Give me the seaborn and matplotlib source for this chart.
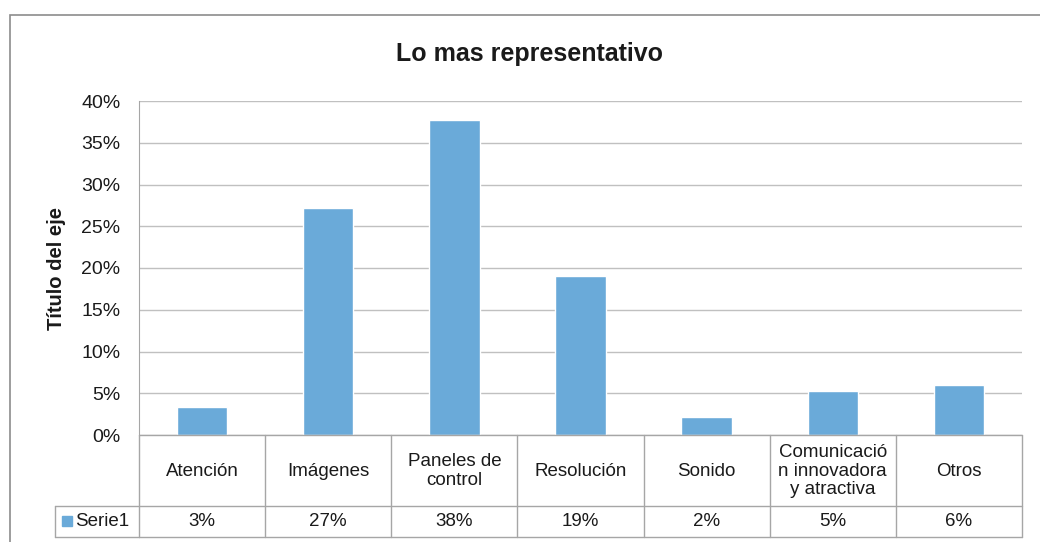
import numpy as np
import pandas as pd
import matplotlib
matplotlib.use('Agg')
import matplotlib.pyplot as plt
import matplotlib.transforms as mtransforms
from matplotlib.patches import Rectangle
from matplotlib.lines import Line2D
import seaborn as sns

# Data
categories = ['Atención', 'Imágenes', 'Paneles de\ncontrol', 'Resolución',
              'Sonido', 'Comunicació\nn innovadora\ny atractiva', 'Otros']
values = [0.034, 0.272, 0.377, 0.19, 0.022, 0.053, 0.06]
series_name = 'Serie1'
y_ticks = [0, 0.05, 0.10, 0.15, 0.20, 0.25, 0.30, 0.35, 0.40]

df = pd.DataFrame({'cat': categories, 'val': values})

sns.set_style('white')
plt.rcParams['font.family'] = ['Liberation Sans', 'DejaVu Sans']

bar_color = '#6aaad9'
grid_color = '#c0c0c0'
line_color = '#a6a6a6'
text_color = '#1a1a1a'

W, H = 1040, 542
fig = plt.figure(figsize=(W / 100, H / 100), dpi=100)

def fx(px):
    return px / W

def fy(py):
    return 1 - py / H

# outer chart frame
fig.patches.append(Rectangle((fx(10), fy(560)), fx(1060) - fx(10), fy(15) - fy(560),
                             transform=fig.transFigure, fill=False,
                             edgecolor='#8c8c8c', linewidth=1.2))

ax = fig.add_axes([fx(139), fy(435), fx(1022) - fx(139), fy(101) - fy(435)])
sns.barplot(data=df, x='cat', y='val', color=bar_color, width=0.4,
            saturation=1, ax=ax)

ax.set_ylim(0, 0.40)
ax.set_xlim(-0.5, len(categories) - 0.5)
ax.set_yticks(y_ticks)
ax.set_yticklabels([f'{t:.0%}' for t in y_ticks], fontsize=14, color=text_color)
ax.tick_params(axis='y', length=0, pad=13.5)
ax.set_xticks([])
ax.set_xlabel('')
ax.yaxis.grid(True, color=grid_color, linewidth=1)
ax.set_axisbelow(True)
for s in ['top', 'right', 'bottom']:
    ax.spines[s].set_visible(False)
ax.spines['left'].set_color(line_color)

ax.set_ylabel('Título del eje', fontsize=14.5, fontweight='bold', color=text_color)
ax.yaxis.set_label_coords(fx(66 - 139) / (fx(1022) - fx(139)), 0.5)

fig.text(fx(530), fy(54), 'Lo mas representativo', ha='center', va='center',
         fontsize=18, fontweight='bold', color=text_color)

# data table below the axes (x in data coords, y in figure coords)
trans = mtransforms.blended_transform_factory(ax.transData, fig.transFigure)
n = len(categories)
y_top, y_mid, y_bot = fy(435), fy(506), fy(537)

def hline(y, x0, x1, tr):
    ax.add_line(Line2D([x0, x1], [y, y], transform=tr, color=line_color,
                       linewidth=1, clip_on=False))

hline(y_top, -0.5, n - 0.5, trans)
hline(y_mid, -0.5, n - 0.5, trans)
hline(y_bot, -0.5, n - 0.5, trans)
hline(y_mid, fx(55), fx(139), fig.transFigure)
hline(y_bot, fx(55), fx(139), fig.transFigure)
for b in np.arange(-0.5, n, 1.0):
    ax.add_line(Line2D([b, b], [y_top, y_bot], transform=trans, color=line_color,
                       linewidth=1, clip_on=False))
ax.add_line(Line2D([fx(55), fx(55)], [y_mid, y_bot], transform=fig.transFigure,
                   color=line_color, linewidth=1, clip_on=False))

for i, (c, v) in enumerate(zip(categories, values)):
    ax.text(i, fy(471), c, transform=trans, ha='center', va='center',
            fontsize=13.5, color=text_color, linespacing=1.1, clip_on=False)
    ax.text(i, (y_mid + y_bot) / 2, f'{v:.0%}', transform=trans, ha='center',
            va='center', fontsize=13.5, color=text_color, clip_on=False)

# legend key in the table
fig.patches.append(Rectangle((fx(62), fy(526)), fx(10), fy(516) - fy(526),
                             transform=fig.transFigure, color=bar_color))
fig.text(fx(75), (y_mid + y_bot) / 2, series_name, ha='left', va='center',
         fontsize=13.5, color=text_color)

plt.savefig('out.png', dpi=100)
plt.close()
